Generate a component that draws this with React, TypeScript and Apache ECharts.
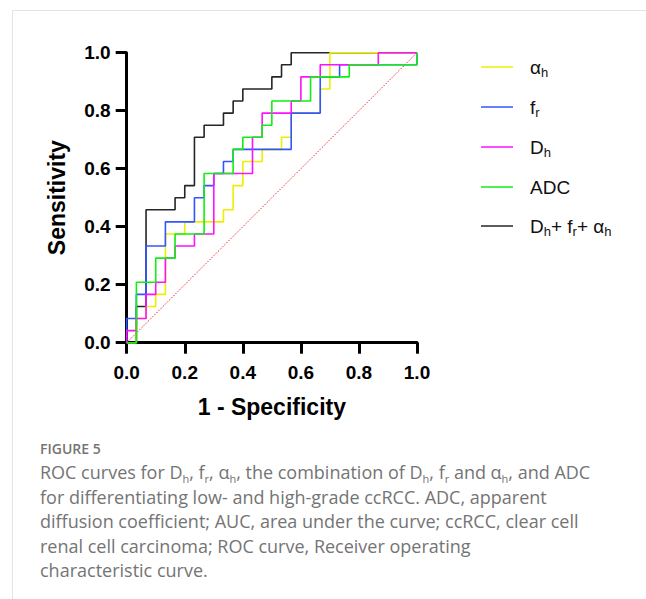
import React, { useEffect, useRef } from "react";
import * as echarts from "echarts";

// ROC counts: negatives (1 - specificity) out of N_NEG, positives (sensitivity) out of N_POS
const N_NEG = 30;
const N_POS = 24;

const alphaFP = [0, 1, 1, 2, 2, 3, 3, 4, 4, 6, 6, 10, 10, 11, 11, 12, 12, 14, 14, 16, 16, 17, 17, 20, 20, 21, 21, 30];
const alphaTP = [0, 0, 2, 2, 3, 3, 4, 4, 9, 9, 10, 10, 11, 11, 13, 13, 15, 15, 16, 16, 17, 17, 19, 19, 21, 21, 24, 24];

const frFP = [0, 0, 1, 1, 2, 2, 4, 4, 7, 7, 8, 8, 9, 9, 10, 10, 11, 11, 17, 17, 20, 20, 22, 22, 30, 30];
const frTP = [0, 2, 2, 4, 4, 8, 8, 10, 10, 12, 12, 13, 13, 14, 14, 15, 15, 16, 16, 19, 19, 22, 22, 23, 23, 24];

const dhFP = [0, 0, 1, 1, 2, 2, 3, 3, 4, 4, 5, 5, 7, 7, 9, 9, 13, 13, 14, 14, 17, 17, 18, 18, 20, 20, 26, 26, 30];
const dhTP = [0, 1, 1, 2, 2, 4, 4, 5, 5, 7, 7, 8, 8, 9, 9, 14, 14, 17, 17, 19, 19, 20, 20, 22, 22, 23, 23, 24, 24];

const adcFP = [0, 1, 1, 3, 3, 5, 5, 8, 8, 11, 11, 12, 12, 14, 14, 15, 15, 19, 19, 23, 23, 30, 30];
const adcTP = [0, 0, 5, 5, 7, 7, 9, 9, 14, 14, 16, 16, 17, 17, 18, 18, 20, 20, 22, 22, 23, 23, 24];

const comboFP = [0, 1, 1, 2, 2, 5, 5, 6, 6, 7, 7, 8, 8, 10, 10, 11, 11, 12, 12, 15, 15, 16, 16, 17, 17, 30];
const comboTP = [0, 0, 3, 3, 11, 11, 12, 12, 13, 13, 17, 17, 18, 18, 19, 19, 20, 20, 21, 21, 22, 22, 23, 23, 24, 24];

const diagonalX = [0, 1];
const diagonalY = [0, 1];

const seriesNames = ["αh", "fr", "Dh", "ADC", "Dh+ fr+ αh"];
const legendRich: Record<string, string> = {
  "αh": "{n|α}{s|h}",
  "fr": "{n|f}{s|r}",
  "Dh": "{n|D}{s|h}",
  "ADC": "{n|ADC}{s| }",
  "Dh+ fr+ αh": "{n|D}{s|h}{n|+ f}{s|r}{n|+ α}{s|h}",
};
const legendRowY = [69.5, 109.5, 149.5, 189.5, 228.5];

const captionLines = [
  "{c|ROC curves for D}{cs|h}{c|, f}{cs|r}{c|, α}{cs|h}{c|, the combination of D}{cs|h}{c|, f}{cs|r}{c| and α}{cs|h}{c|, and ADC}",
  "{c|for differentiating low- and high-grade ccRCC. ADC, apparent}",
  "{c|diffusion coefficient; AUC, area under the curve; ccRCC, clear cell}",
  "{c|renal cell carcinoma; ROC curve, Receiver operating}",
  "{c|characteristic curve.}",
];

const toPts = (fp: number[], tp: number[]) => fp.map((f, i) => [f / N_NEG, tp[i] / N_POS]);

const FONT = "'Liberation Sans', Arial, Helvetica, sans-serif";

export default function App() {
  const ref = useRef<HTMLDivElement>(null);
  useEffect(() => {
    if (!ref.current) return;
    const chart = echarts.init(ref.current, undefined, { renderer: "svg" });
    const mk = (name: string, fp: number[], tp: number[], color: string) => ({
      name,
      type: "line",
      data: toPts(fp, tp),
      symbol: "none",
      showSymbol: false,
      clip: false,
      lineStyle: { color, width: 1.6 },
      itemStyle: { color },
    });
    const capRich = {
      c: { fontFamily: "'Open Sans', sans-serif", fontSize: 18, color: "#747474", lineHeight: 24 },
      cs: { fontFamily: "'Open Sans', sans-serif", fontSize: 11, color: "#747474", verticalAlign: "bottom", lineHeight: 17 },
    };
    const legends = seriesNames.map((name, i) => ({
      data: [name],
      orient: "vertical",
      left: 481,
      top: legendRowY[i] - 12,
      itemWidth: 32,
      itemHeight: 1.5,
      icon: "rect",
      padding: 0,
      formatter: (n: string) => legendRich[n] || n,
      textStyle: {
        padding: [0, 0, 0, 12],
        rich: {
          n: { fontFamily: FONT, fontSize: 19, color: "#111", lineHeight: 24 },
          s: { fontFamily: FONT, fontSize: 13, color: "#111", verticalAlign: "bottom", lineHeight: 16 },
        },
      },
    }));
    const option: any = {
      animation: false,
      backgroundColor: "#fff",
      grid: { left: 126.7, right: 229, top: 52.7, bottom: 256.3, containLabel: false },
      legend: legends,
      xAxis: {
        type: "value",
        min: 0,
        max: 1,
        interval: 0.2,
        name: "1 - Specificity",
        nameLocation: "middle",
        nameGap: 53,
        nameTextStyle: { fontFamily: FONT, fontSize: 23, fontWeight: "bold", color: "#000" },
        axisLine: { show: true, lineStyle: { color: "#000", width: 3 } },
        axisTick: { show: true, length: 11, lineStyle: { color: "#000", width: 3 } },
        axisLabel: { formatter: (v: number) => v.toFixed(1), fontFamily: FONT, fontSize: 19, fontWeight: "bold", color: "#000", margin: 20 },
        splitLine: { show: false },
      },
      yAxis: {
        type: "value",
        min: 0,
        max: 1,
        interval: 0.2,
        name: "Sensitivity",
        nameLocation: "middle",
        nameGap: 58,
        nameRotate: 90,
        nameTextStyle: { fontFamily: FONT, fontSize: 23, fontWeight: "bold", color: "#000" },
        axisLine: { show: true, lineStyle: { color: "#000", width: 3 } },
        axisTick: { show: true, length: 11, lineStyle: { color: "#000", width: 3 } },
        axisLabel: { formatter: (v: number) => v.toFixed(1), fontFamily: FONT, fontSize: 19, fontWeight: "bold", color: "#000", margin: 16 },
        splitLine: { show: false },
      },
      series: [
        {
          name: "diagonal",
          type: "line",
          data: diagonalX.map((x, i) => [x, diagonalY[i]]),
          symbol: "none",
          clip: false,
          lineStyle: { color: "#ff2020", width: 1, type: [1.5, 1.5] },
          silent: true,
        },
        mk("Dh+ fr+ αh", comboFP, comboTP, "#262626"),
        mk("αh", alphaFP, alphaTP, "#eeee00"),
        mk("fr", frFP, frTP, "#3355ff"),
        mk("Dh", dhFP, dhTP, "#ff11ff"),
        mk("ADC", adcFP, adcTP, "#11ee11"),
      ],
      graphic: [
        { type: "line", shape: { x1: 12.5, y1: 10.5, x2: 646, y2: 10.5 }, style: { stroke: "#e3e3e3", lineWidth: 1 } },
        { type: "line", shape: { x1: 12.5, y1: 10.5, x2: 12.5, y2: 599 }, style: { stroke: "#e3e3e3", lineWidth: 1 } },
        {
          type: "text",
          x: 40,
          y: 448,
          style: { text: "FIGURE 5", fill: "#747474", font: "600 14px 'Open Sans', sans-serif", verticalAlign: "middle" },
        },
        ...captionLines.map((t, i) => ({
          type: "text",
          x: 40,
          y: 472 + i * 24.5,
          style: { text: t, rich: capRich, verticalAlign: "middle", fill: "#747474" },
        })),
      ],
    };
    chart.setOption(option);
    return () => chart.dispose();
  }, []);
  return <div ref={ref} style={{ position: "absolute", left: 0, top: 0, width: 646, height: 599 }} />;
}
